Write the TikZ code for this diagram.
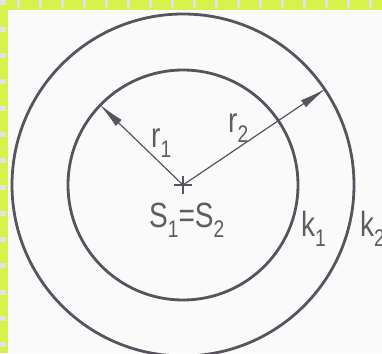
\documentclass[tikz,border=0pt]{standalone}
\usepackage{fontspec}
\setmainfont{Liberation Sans}
\usetikzlibrary{arrows.meta}
\definecolor{paper}{RGB}{250,250,251}
\definecolor{ink}{RGB}{88,84,94}
\definecolor{txtgray}{RGB}{94,94,98}
\definecolor{lime}{RGB}{214,243,76}
\definecolor{gapgray}{RGB}{226,226,226}
\newcommand{\idx}[1]{\raisebox{-10pt}{\fontsize{24}{24}\selectfont #1}}
\newcommand{\lbltext}[1]{\scalebox{0.8}[1]{\fontsize{35}{40}\selectfont #1}}

\begin{document}
\begin{tikzpicture}[x=1pt,y=1pt,line join=round,
  ring/.style={circle,draw=ink,line width=2.8pt,inner sep=0pt},
  radius arrow/.style={ink,line width=1.2pt,-{Latex[length=27pt,width=8.5pt]}},
  lbl/.style={inner sep=0pt,text=txtgray,anchor=base west}]
  \useasboundingbox (0,0) rectangle (382,353);
  \fill[paper] (0,0) rectangle (382,353);
  % dashed frame, top and left
  \fill[lime] (0,343) rectangle (382,353);
  \fill[lime] (0,0) rectangle (7.5,353);
  \foreach \x in {17,39,...,381}{\fill[gapgray] (\x,345) rectangle (\x+3,353);}
  \foreach \i in {0,...,13}{\fill[gapgray] (0,347.5-26.3*\i) rectangle (6,352.5-26.3*\i);}
  % the two circles about one centre
  \coordinate (S) at (183,168);
  \node[ring,minimum size=230] (k1) at (S) {};
  \node[ring,minimum size=342] (k2) at (S) {};
  \draw[ink,line width=1.4pt] (S) ++(-9,0) -- ++(18,0) (S) ++(0,-9) -- ++(0,18);
  % radii
  \draw[radius arrow] (S) -- (k1.136.5);
  \draw[radius arrow] (S) -- (k2.34.6);
  % labels
  \node[lbl] (s12) at (149,125) {\lbltext{S\idx{1}=S\idx{2}}};
  \node[lbl] (r1) at (151,205) {\lbltext{r\idx{1}}};
  \node[lbl] (r2) at (228,220) {\lbltext{r\idx{2}}};
  \node[lbl] (k1lab) at (301,116) {\lbltext{k\idx{1}}};
  \node[lbl] (k2lab) at (360,116) {\lbltext{k\idx{2}}};
\end{tikzpicture}
\end{document}
